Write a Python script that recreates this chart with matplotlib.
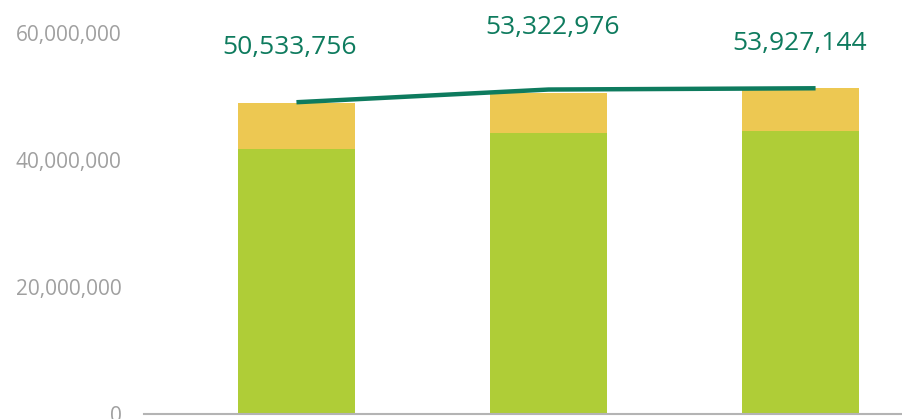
import matplotlib
matplotlib.use('Agg')
import matplotlib.pyplot as plt
from matplotlib.ticker import FuncFormatter

# values in millions
years = ['2016', '2017', '2018']
base_vals = [41.7, 44.25, 44.6]
top_vals = [7.3, 6.25, 6.7]
total_line = [49.1, 51.1, 51.3]
total_labels = ['50,533,756', '53,322,976', '53,927,144']

GREEN = '#AFCD37'
YELLOW = '#EDC852'
TEAL = '#0E7B5E'
GREY = '#A0A0A0'

plt.rcParams['font.family'] = ['Open Sans', 'DejaVu Sans']

fig = plt.figure(figsize=(9.02, 4.19), dpi=100)
ax = fig.add_axes([144 / 902, 5 / 419, 758 / 902, 414 / 419])

x = list(range(len(years)))
M = 1e6
ax.bar(x, [v * M for v in base_vals], width=0.464, color=GREEN, zorder=2)
ax.bar(x, [v * M for v in top_vals], bottom=[v * M for v in base_vals],
       width=0.464, color=YELLOW, zorder=2)

# the line ends a little right of the last bar centre in the original
line_x = [0, 1, 2.06]
ax.plot(line_x, [v * M for v in total_line], color=TEAL, linewidth=3.2,
        solid_capstyle='butt', zorder=3)

label_pos = [(-0.028, 57.7), (1.018, 60.8), (1.995, 58.4)]
for (lx, ly), txt in zip(label_pos, total_labels):
    ax.text(lx, ly * M, txt, ha='center', va='center', fontsize=19,
            color=TEAL, zorder=4)

ax.set_xlim(-0.605, 2.403)
ax.set_ylim(0, 65.2 * M)
ax.set_yticks([0, 20 * M, 40 * M, 60 * M])
ax.yaxis.set_major_formatter(FuncFormatter(lambda v, p: f'{int(v):,}'))
ax.tick_params(axis='y', length=0, pad=16, labelsize=15, labelcolor=GREY)
ax.set_xticks([])

for side in ['top', 'right', 'left']:
    ax.spines[side].set_visible(False)
ax.spines['bottom'].set_color('#B4B4B4')
ax.spines['bottom'].set_linewidth(1.5)

fig.savefig('out.png', dpi=100)
